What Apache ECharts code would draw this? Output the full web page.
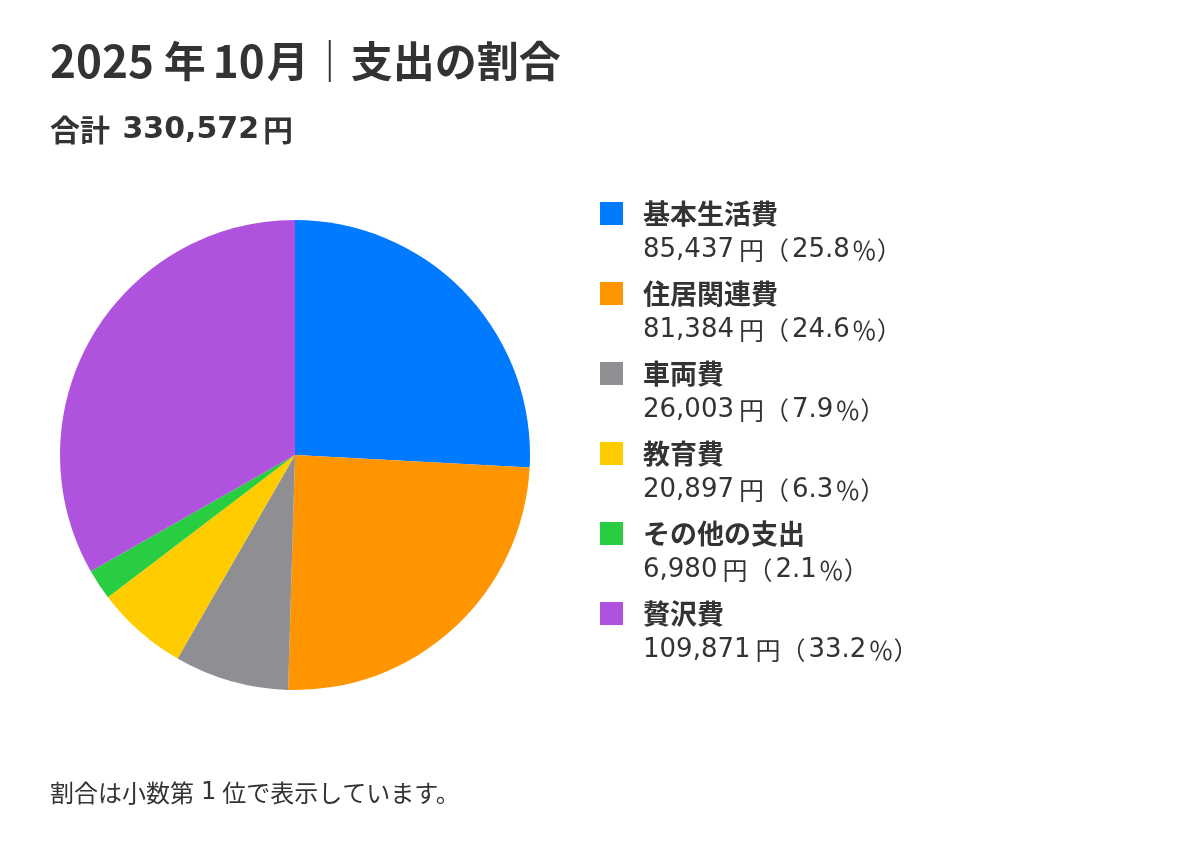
<!DOCTYPE html>
<html lang="ja">
<head>
<meta charset="utf-8">
<title>2025年10月｜支出の割合</title>
<script src="https://cdn.jsdelivr.net/npm/echarts@6/dist/echarts.min.js"></script>
<style>
  html, body { margin: 0; padding: 0; background: #fff; }
  #main { width: 1200px; height: 850px; }
</style>
</head>
<body>
<div id="main"></div>
<script>
// 支出カテゴリと金額（円）
const categories = ['基本生活費', '住居関連費', '車両費', '教育費', 'その他の支出', '贅沢費'];
const amounts = [85437, 81384, 26003, 20897, 6980, 109871];
const percents = [25.8, 24.6, 7.9, 6.3, 2.1, 33.2];
const colors = ['#007AFF', '#FF9500', '#8E8E93', '#FFCC00', '#28CD41', '#AF52DE'];

const total = amounts.reduce((a, b) => a + b, 0);
const cjk = '"Noto Sans CJK JP", sans-serif';
const latin = '"DejaVu Sans", "Noto Sans CJK JP", sans-serif';
const textColor = '#333333';

let myChart = echarts.init(document.getElementById('main'));

// 和欧間のすき間は rich テキストの padding で調整
let option = {
    backgroundColor: '#ffffff',
    color: colors,
    title: [
        {
            // タイトル
            text: '{d|2025}{y|年}{d|10}{m|月}{s|｜}{k|支出の割合}',
            left: 50,
            top: 36,
            padding: 0,
            textStyle: {
                rich: {
                    d: { fontFamily: cjk, fontSize: 44, fontWeight: 'bold', color: textColor, lineHeight: 50 },
                    y: { fontFamily: cjk, fontSize: 42, fontWeight: 'bold', color: textColor, lineHeight: 50, padding: [0, 7, 0, 10] },
                    m: { fontFamily: cjk, fontSize: 42, fontWeight: 'bold', color: textColor, lineHeight: 50, padding: [0, 0, 0, 2] },
                    s: { fontFamily: cjk, fontSize: 42, fontWeight: 'bold', color: textColor, lineHeight: 50 },
                    k: { fontFamily: cjk, fontSize: 42, fontWeight: 'bold', color: textColor, lineHeight: 50 }
                }
            }
        },
        {
            text: '{k|合計}{d| ' + total.toLocaleString('ja-JP') + '}{y|円}',
            left: 50,
            top: 112,
            padding: 0,
            textStyle: {
                rich: {
                    k: { fontFamily: cjk, fontSize: 30, fontWeight: 'bold', color: textColor, lineHeight: 36 },
                    d: { fontFamily: latin, fontSize: 30, fontWeight: 'bold', color: textColor, lineHeight: 36, padding: [0, 0, 0, 2] },
                    y: { fontFamily: cjk, fontSize: 30, fontWeight: 'bold', color: textColor, lineHeight: 36, padding: [0, 0, 0, 4] }
                }
            }
        },
        {
            // 注記
            text: '{k|割合は小数第}{d|1}{k|位で表示しています。}',
            left: 50,
            top: 778,
            padding: 0,
            textStyle: {
                fontWeight: 'normal',
                rich: {
                    k: { fontFamily: cjk, fontSize: 24, fontWeight: 'normal', color: textColor, lineHeight: 30 },
                    d: { fontFamily: latin, fontSize: 24, fontWeight: 'normal', color: textColor, lineHeight: 30, padding: [0, 6, 0, 7] }
                }
            }
        }
    ],
    legend: {
        orient: 'vertical',
        left: 600,
        top: 200,
        padding: 0,
        itemWidth: 23,
        itemHeight: 23,
        itemGap: 16.5,
        icon: 'rect',
        selectedMode: false,
        data: categories,
        formatter: (name) => {
            let i = categories.indexOf(name);
            return '{n|' + name + '}\n{v|' + amounts[i].toLocaleString('ja-JP') + '}{y|円}{k|（}{w|' +
                percents[i].toFixed(1) + '}{k|％）}';
        },
        textStyle: {
            fontFamily: cjk,
            color: textColor,
            padding: [36, 0, 0, 15],
            rich: {
                n: { fontFamily: cjk, fontSize: 27, fontWeight: 'bold', color: textColor, lineHeight: 38 },
                v: { fontFamily: latin, fontSize: 26, color: textColor, lineHeight: 36 },
                w: { fontFamily: latin, fontSize: 26, color: textColor, lineHeight: 36, padding: [0, 2, 0, 3] },
                y: { fontFamily: cjk, fontSize: 25, color: textColor, lineHeight: 36, padding: [0, 0, 0, 5] },
                k: { fontFamily: cjk, fontSize: 25, color: textColor, lineHeight: 36 }
            }
        }
    },
    series: [
        {
            name: '支出',
            type: 'pie',
            center: [295, 455],
            radius: [0, 235],
            startAngle: 90,
            clockwise: true,
            avoidLabelOverlap: false,
            label: { show: false },
            labelLine: { show: false },
            emphasis: { disabled: true },
            animation: false,
            data: categories.map((c, i) => ({ name: c, value: amounts[i] }))
        }
    ]
};
myChart.setOption(option);
</script>
</body>
</html>
